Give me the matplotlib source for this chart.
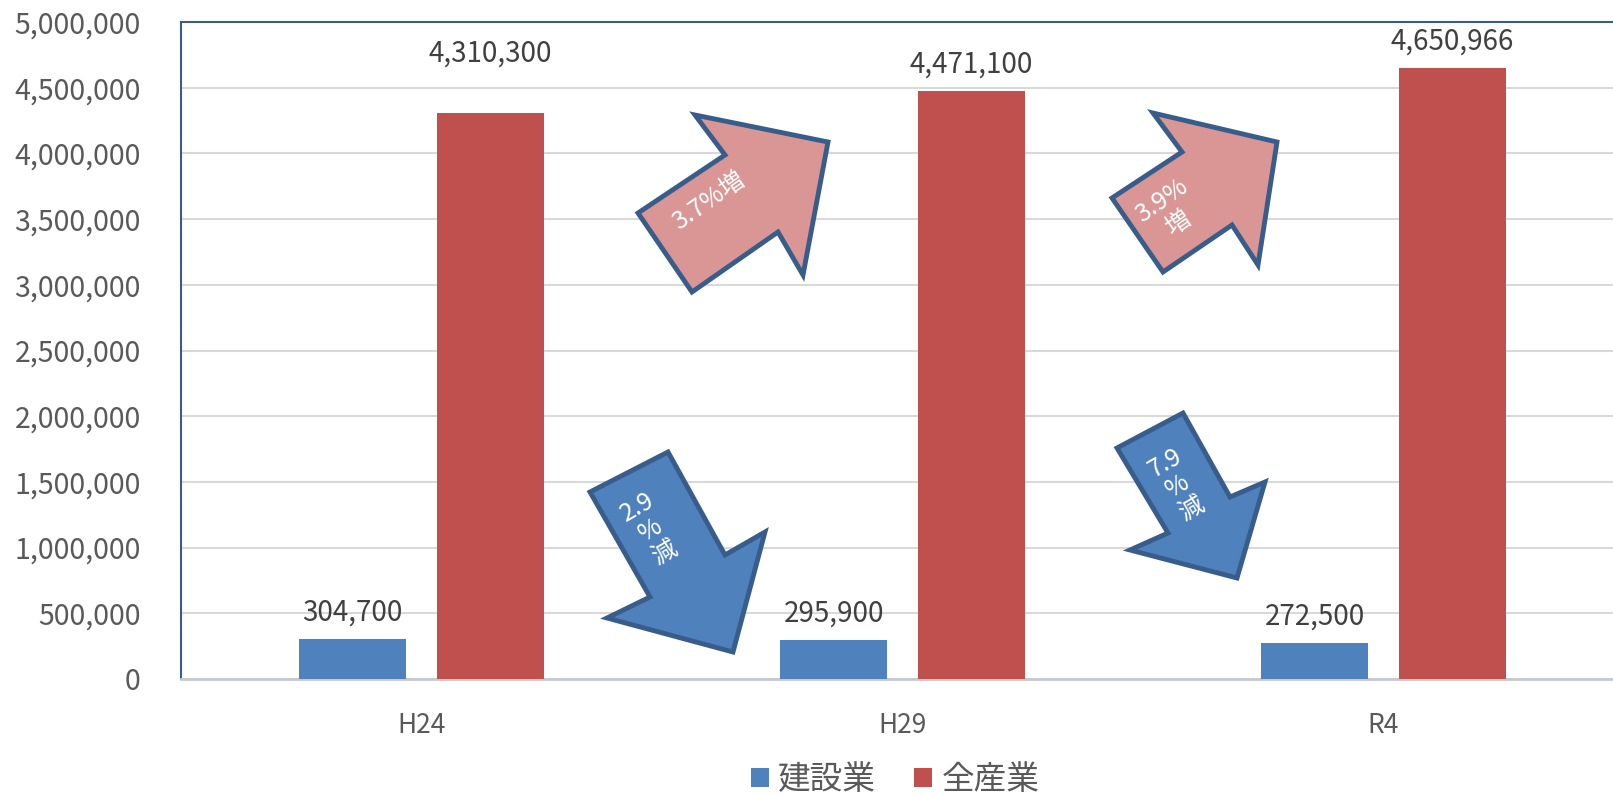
import matplotlib
matplotlib.use("Agg")
import matplotlib.pyplot as plt
from matplotlib.patches import Polygon
from matplotlib.ticker import FuncFormatter, MultipleLocator
import numpy as np

plt.rcParams['font.family'] = ['Noto Sans CJK JP', 'DejaVu Sans']

# ---- data ----
categories = ["H24", "H29", "R4"]
construction = [304700, 295900, 272500]      # 建設業
all_industry = [4310300, 4471100, 4650966]   # 全産業
series_names = ["建設業", "全産業"]
colors = ["#4F81BD", "#C0504D"]

# annotation arrows (pixel geometry of the callout shapes)
arrow_up_pts = [
    [(638, 213), (725, 155), (695, 115), (828, 142), (803, 275), (778, 232), (692, 292)],
    [(1112, 198), (1182, 152), (1153, 113), (1277, 142), (1258, 265), (1232, 225), (1163, 272)],
]
arrow_down_pts = [
    [(590, 492), (668, 452), (725, 555), (765, 532), (733, 652), (607, 618), (650, 597)],
    [(1117, 448), (1183, 413), (1230, 497), (1265, 482), (1237, 578), (1130, 550), (1168, 533)],
]
up_texts = ["3.7%増", "3.9%\n増"]
up_text_pos = [(709, 201), (1170, 212)]
down_texts = ["2.9\n%\n減", "7.9\n%\n減"]
down_text_pos = [(651, 530), (1178, 486)]

W, H = 1613, 795
fig = plt.figure(figsize=(W / 100, H / 100), dpi=100)
left, right_px, top_px, bottom_px = 181, 1624, 22, 679
ax = fig.add_axes([left / W, 1 - bottom_px / H, (right_px - left) / W, (bottom_px - top_px) / H])

x = np.arange(len(categories))
bw = 0.2225
off = 0.143
b1 = ax.bar(x - off, construction, bw, color=colors[0], label=series_names[0], zorder=3)
b2 = ax.bar(x + off, all_industry, bw, color=colors[1], label=series_names[1], zorder=3)

ax.set_xlim(-0.5, len(categories) - 0.5)
ax.set_ylim(0, 5000000)
ax.yaxis.set_major_locator(MultipleLocator(500000))
ax.yaxis.set_major_formatter(FuncFormatter(lambda v, p: f"{int(v):,}"))
ax.grid(axis='y', color='#D9D9D9', linewidth=1.5, zorder=0)
ax.set_axisbelow(True)

ax.set_xticks(x)
ax.set_xticklabels(categories)
ax.tick_params(axis='x', length=0, pad=24, labelsize=19, labelcolor='#595959')
ax.tick_params(axis='y', length=0, pad=29, labelsize=20.5, labelcolor='#595959')

for s in ['left', 'top']:
    ax.spines[s].set_color('#385D8A')
    ax.spines[s].set_linewidth(1.5)
ax.spines['right'].set_visible(False)
ax.spines['bottom'].set_color('#C4CAD3')
ax.spines['bottom'].set_linewidth(2)

# data labels
label_extra = [[0, 0, 0], [33, 0, 0]]
for si, (bars, vals) in enumerate([(b1, construction), (b2, all_industry)]):
    for i, (bar, v) in enumerate(zip(bars, vals)):
        ax.annotate(f"{v:,}", (bar.get_x() + bar.get_width() / 2, v),
                    xytext=(0, 19 + label_extra[si][i] * 0.72), textcoords='offset points',
                    ha='center', va='center', fontsize=20, color='#404040')

def px(p):
    return (p[0] / W, 1 - p[1] / H)

for pts in arrow_up_pts:
    poly = Polygon([px(p) for p in pts], closed=True, transform=fig.transFigure,
                   facecolor='#D99694', edgecolor='#385D8A', linewidth=3.5,
                   joinstyle='miter', zorder=5)
    fig.add_artist(poly)
for pts in arrow_down_pts:
    poly = Polygon([px(p) for p in pts], closed=True, transform=fig.transFigure,
                   facecolor='#4F81BD', edgecolor='#385D8A', linewidth=3.5,
                   joinstyle='miter', zorder=5)
    fig.add_artist(poly)

for t, p in zip(up_texts, up_text_pos):
    fig.text(*px(p), t, rotation=35, ha='center', va='center', color='white',
             fontsize=18, linespacing=1.1, rotation_mode='anchor', zorder=6)
for t, p in zip(down_texts, down_text_pos):
    fig.text(*px(p), t, rotation=30, ha='center', va='center', color='white',
             fontsize=18, linespacing=1.0, rotation_mode='anchor', zorder=6)

fig.legend(handles=[b1, b2], labels=series_names, loc='center',
           bbox_to_anchor=(895 / W, 1 - 780 / H), ncol=2, frameon=False,
           fontsize=23.5, handlelength=0.55, handleheight=0.55, handletextpad=0.3,
           columnspacing=1.15, labelcolor='#595959')

fig.savefig("out.png", dpi=100)
